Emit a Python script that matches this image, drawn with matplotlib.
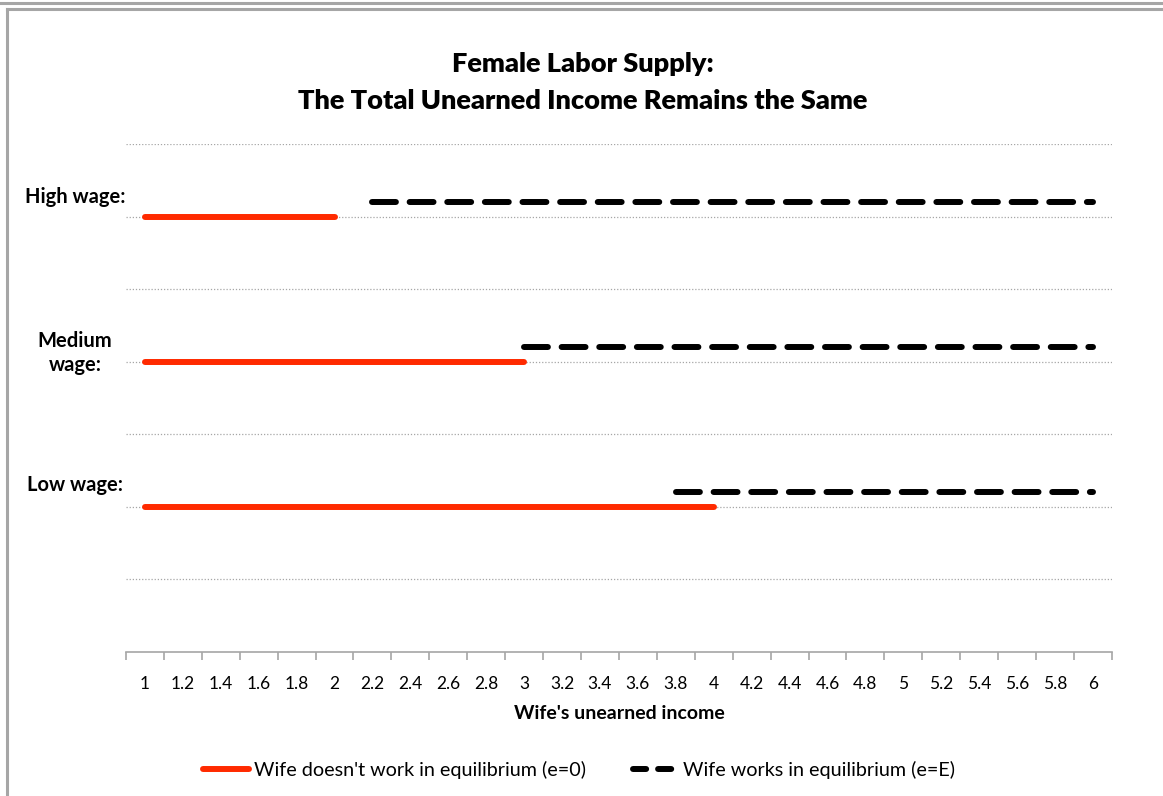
import numpy as np
import matplotlib
matplotlib.use("Agg")
import matplotlib.pyplot as plt
from matplotlib.lines import Line2D

plt.rcParams['font.family'] = ['Lato', 'DejaVu Sans']

# categories on the x axis (wife's unearned income)
income = ['1', '1.2', '1.4', '1.6', '1.8', '2', '2.2', '2.4', '2.6', '2.8',
          '3', '3.2', '3.4', '3.6', '3.8', '4', '4.2', '4.4', '4.6', '4.8',
          '5', '5.2', '5.4', '5.6', '5.8', '6']

N = None
# wife doesn't work (e=0)
high_no_work = [6, 6, 6, 6, 6, 6, N, N, N, N, N, N, N, N, N, N, N, N, N, N, N, N, N, N, N, N]
med_no_work = [4, 4, 4, 4, 4, 4, 4, 4, 4, 4, 4, N, N, N, N, N, N, N, N, N, N, N, N, N, N, N]
low_no_work = [2, 2, 2, 2, 2, 2, 2, 2, 2, 2, 2, 2, 2, 2, 2, 2, N, N, N, N, N, N, N, N, N, N]
# wife works (e=E)
high_work = [N, N, N, N, N, N, 6.2, 6.2, 6.2, 6.2, 6.2, 6.2, 6.2, 6.2, 6.2, 6.2,
             6.2, 6.2, 6.2, 6.2, 6.2, 6.2, 6.2, 6.2, 6.2, 6.2]
med_work = [N, N, N, N, N, N, N, N, N, N, 4.2, 4.2, 4.2, 4.2, 4.2, 4.2,
            4.2, 4.2, 4.2, 4.2, 4.2, 4.2, 4.2, 4.2, 4.2, 4.2]
low_work = [N, N, N, N, N, N, N, N, N, N, N, N, N, N, 2.2, 2.2,
            2.2, 2.2, 2.2, 2.2, 2.2, 2.2, 2.2, 2.2, 2.2, 2.2]

red = '#ff2a00'
lw = 4.3

fig = plt.figure(figsize=(11.63, 7.96), dpi=100)
ax = fig.add_axes([0.1083, 0.181, 0.8478, 0.638])

x = np.arange(len(income))
for s in [high_no_work, med_no_work, low_no_work]:
    ax.plot(x, np.array(s, dtype=float), color=red, lw=lw, solid_capstyle='round')
for s in [high_work, med_work, low_work]:
    ax.plot(x, np.array(s, dtype=float), color='black', lw=lw,
            dashes=(4, 2.3), dash_capstyle='round')

ax.set_xlim(-0.5, len(income) - 0.5)
ax.set_ylim(0, 7)
ax.set_yticks([1, 2, 3, 4, 5, 6, 7])
ax.yaxis.grid(True, linestyle=(0, (1, 1.5)), color='#a6a6a6', lw=0.9)
ax.tick_params(axis='y', left=False, labelleft=False)
for side in ['left', 'right', 'top']:
    ax.spines[side].set_visible(False)
ax.spines['bottom'].set_color('#a6a6a6')
ax.spines['bottom'].set_linewidth(1.2)

ax.set_xticks(x)
ax.set_xticklabels(income, fontsize=12.5)
ax.tick_params(axis='x', length=0, pad=17)
ax.set_xticks(np.arange(len(income) + 1) - 0.5, minor=True)
ax.tick_params(axis='x', which='minor', length=6, color='#a6a6a6', width=1.2)
ax.set_axisbelow(True)

ax.set_xlabel("Wife's unearned income", fontsize=14, fontweight='bold', labelpad=10)

fig.text(0.501, 0.896, "Female Labor Supply:\nThe Total Unearned Income Remains the Same",
         ha='center', va='center', fontsize=19.5, fontweight='heavy', linespacing=1.65)

fig.text(0.0645, 0.7525, "High wage:", ha='center', va='center', fontsize=14.5, fontweight='bold')
fig.text(0.0645, 0.5565, "Medium\nwage:", ha='center', va='center', fontsize=14.5,
         fontweight='bold', linespacing=1.3)
fig.text(0.0645, 0.391, "Low wage:", ha='center', va='center', fontsize=14.5, fontweight='bold')

handles = [Line2D([], [], color=red, lw=lw, solid_capstyle='round'),
           Line2D([], [], color='black', lw=lw, dashes=(2.2, 2.0), dash_capstyle='round')]
fig.legend(handles, ["Wife doesn't work in equilibrium (e=0)", "Wife works in equilibrium (e=E)"],
           loc='center', bbox_to_anchor=(0.498, 0.033), ncol=2, frameon=False,
           fontsize=14.2, handlelength=2.3, handletextpad=0.25, columnspacing=2.4)

# chart frame lines
fig.add_artist(Line2D([0, 1], [1 - 2.5 / 796, 1 - 2.5 / 796], color='#a6a6a6', lw=2.2))
fig.add_artist(Line2D([6.5 / 1163, 1], [1 - 8.5 / 796, 1 - 8.5 / 796], color='#a6a6a6', lw=2.2))
fig.add_artist(Line2D([6.5 / 1163, 6.5 / 1163], [0, 1 - 8.5 / 796], color='#a6a6a6', lw=2.2))

fig.savefig('out.png', dpi=100)
